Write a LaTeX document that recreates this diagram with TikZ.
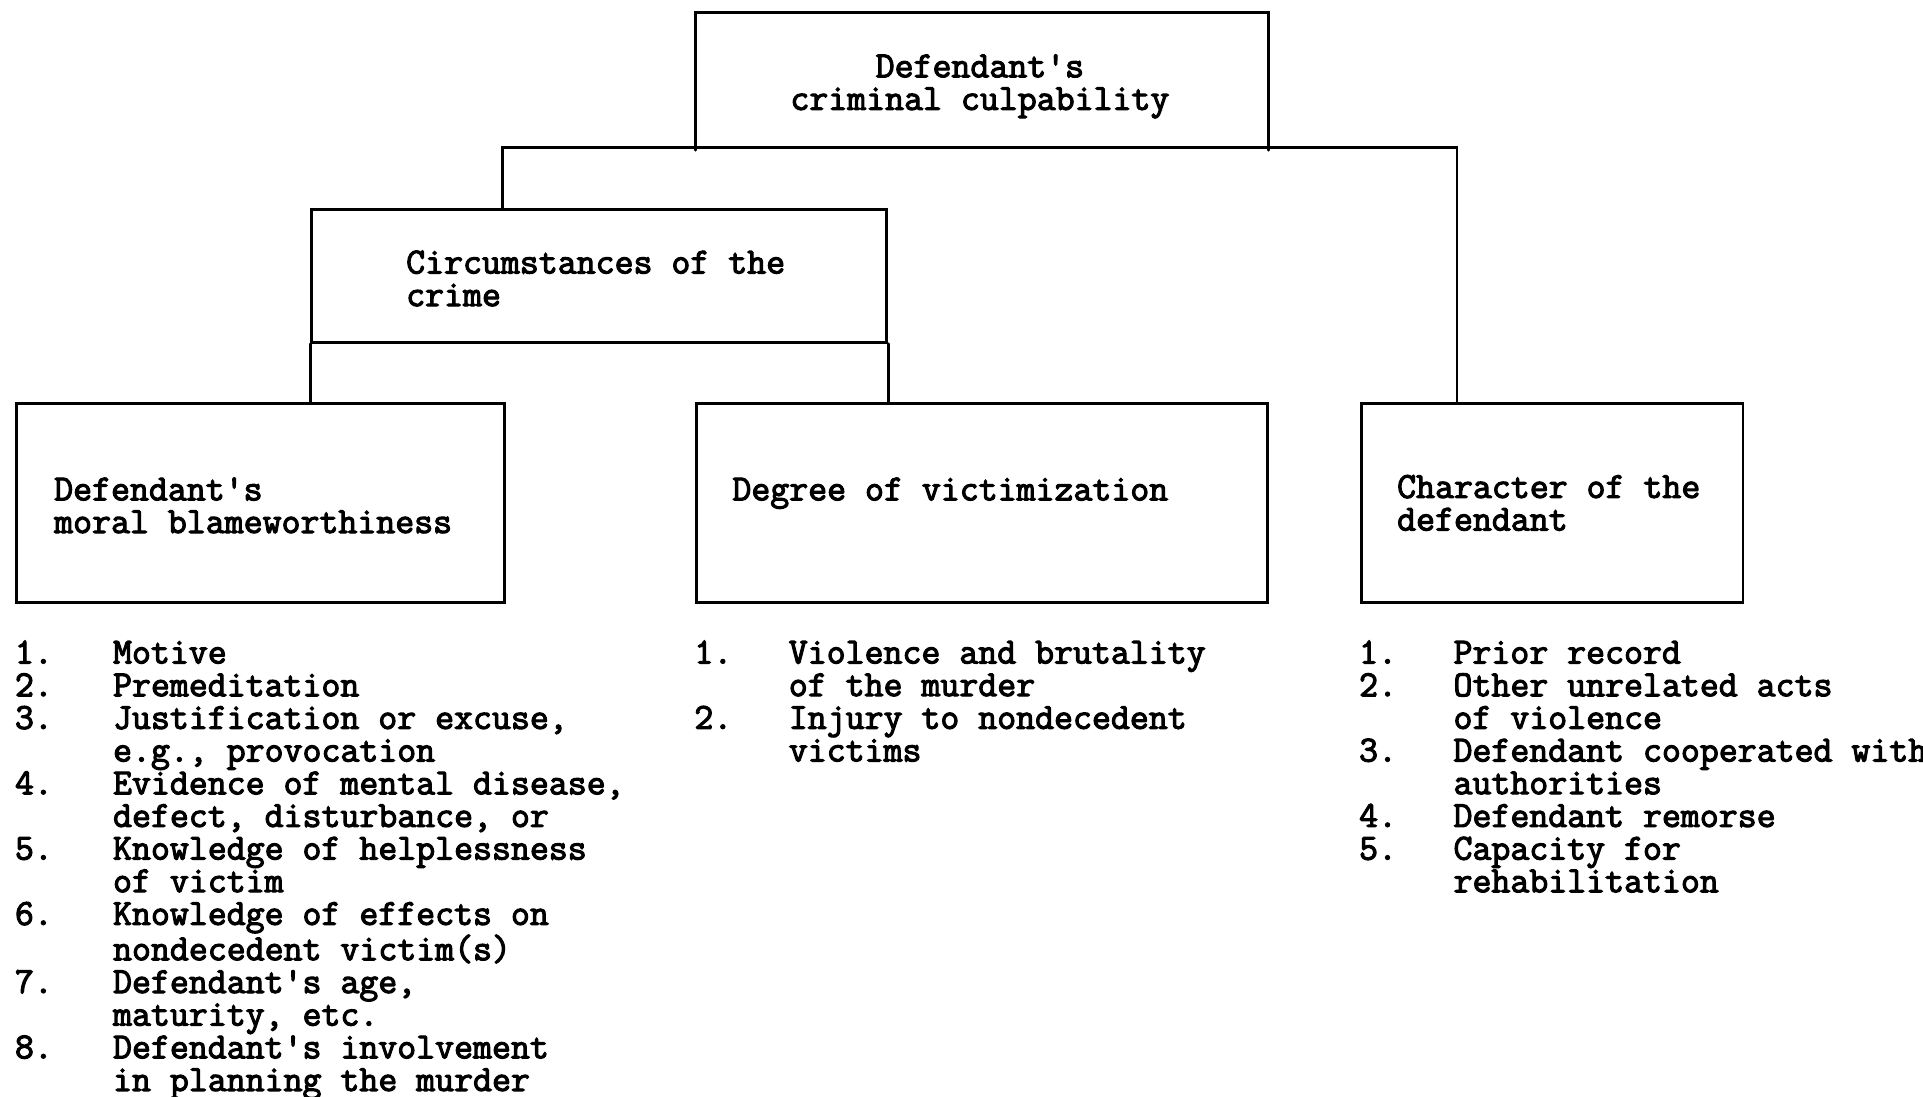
\documentclass[tikz,border=0pt]{standalone}
\usepackage{fontspec}
\setmonofont{Latin Modern Mono}[AutoFakeBold=3]
\usepackage{array}
\begin{document}
\begin{tikzpicture}[x=1pt,y=1pt,
  frame/.style={rectangle, inner sep=0pt, anchor=north west, line width=2.4pt},
  edge/.style={line width=2.4pt, line cap=round},
  txt/.style={inner sep=0pt, font=\ttfamily\bfseries\fontsize{30}{26.6}\selectfont},
]
\useasboundingbox (0,0) rectangle (1568,-894);
\clip (0,0) rectangle (1568,-894);
\fill[white] (0,0) rectangle (1568,-894);

% boxes
\node[frame] (top) at (567,-10) [minimum width=465pt, minimum height=110pt] {};
\node[frame, draw] (circ) at (253,-170) [minimum width=469pt, minimum height=108pt] {};
\node[frame, draw] (moral) at (12,-328) [minimum width=398pt, minimum height=162pt] {};
\node[frame, draw] (deg) at (567,-328) [minimum width=465pt, minimum height=162pt] {};
\node[frame, draw] (chr) at (1109,-328) [minimum width=311pt, minimum height=162pt] {};

% connectors
\coordinate (busL) at (410,-120);
\coordinate (busR) at (1188,-120);
\draw[edge] (top.south west) -- (top.north west) -- (top.north east) -- (top.south east);
\draw[edge] (busL |- circ.north) -- (busL) -- (busR) -- (busR |- chr.north);
\draw[edge] (circ.south west) -- (circ.south west |- moral.north);
\draw[edge] (circ.south east) -- (circ.south east |- deg.north);

% box texts
\node[txt, anchor=base] (topT) at (799,-63)
  {\begin{tabular}[t]{@{}c@{}}Defendant's\\criminal culpability\end{tabular}};
\node[txt, anchor=base west] (circT) at (331,-223)
  {\begin{tabular}[t]{@{}l@{}}Circumstances of the\\crime\end{tabular}};
\node[txt, anchor=base west] (moralT) at (44,-408)
  {\begin{tabular}[t]{@{}l@{}}Defendant's\\moral blameworthiness\end{tabular}};
\node[txt, anchor=base west] (degT) at (597,-408)
  {\begin{tabular}[t]{@{}l@{}}Degree of victimization\end{tabular}};
\node[txt, anchor=base west] (chrT) at (1139,-406)
  {\begin{tabular}[t]{@{}l@{}}Character of the\\defendant\end{tabular}};

% lists
\node[txt, anchor=base west] (listA) at (12,-541)
  {\begin{tabular}[t]{@{}p{80pt}@{}l@{}}
1. & Motive\\
2. & Premeditation\\
3. & Justification or excuse,\\
   & e.g., provocation\\
4. & Evidence of mental disease,\\
   & defect, disturbance, or\\
5. & Knowledge of helplessness\\
   & of victim\\
6. & Knowledge of effects on\\
   & nondecedent victim(s)\\
7. & Defendant's age,\\
   & maturity, etc.\\
8. & Defendant's involvement\\
   & in planning the murder
\end{tabular}};
\node[txt, anchor=base west] (listB) at (566,-541)
  {\begin{tabular}[t]{@{}p{77pt}@{}l@{}}
1. & Violence and brutality\\
   & of the murder\\
2. & Injury to nondecedent\\
   & victims
\end{tabular}};
\node[txt, anchor=base west] (listC) at (1108,-541)
  {\begin{tabular}[t]{@{}p{77pt}@{}l@{}}
1. & Prior record\\
2. & Other unrelated acts\\
   & of violence\\
3. & Defendant cooperated with\\
   & authorities\\
4. & Defendant remorse\\
5. & Capacity for\\
   & rehabilitation
\end{tabular}};
\end{tikzpicture}
\end{document}
